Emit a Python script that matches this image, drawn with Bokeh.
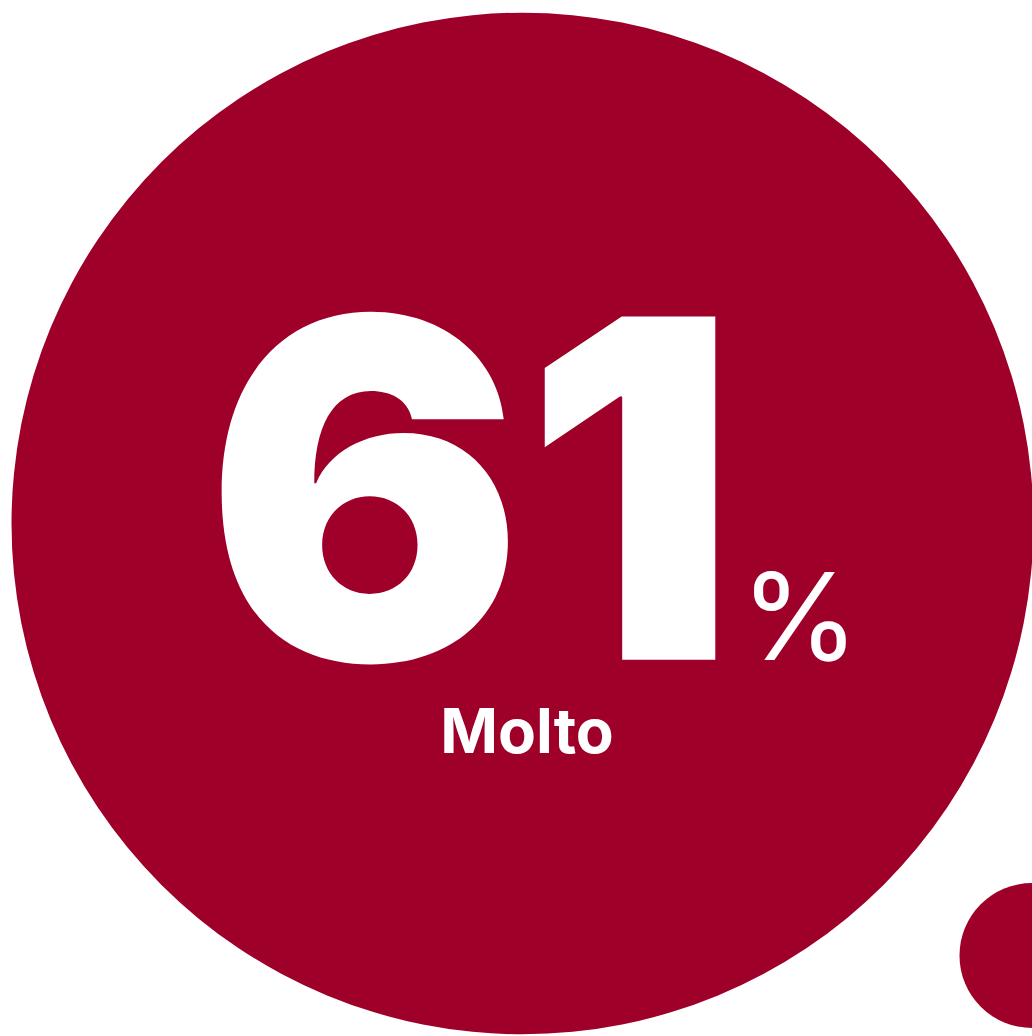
from bokeh.plotting import figure
from bokeh.models import Range1d
from bokeh.core.properties import value
from bokeh.embed import file_html
from bokeh.resources import INLINE

# data
categories = ["Molto"]
values = [61]
unit = "%"

RED = "#9f0029"
W, H = 1032, 1036

p = figure(width=W, height=H, output_backend="svg", toolbar_location=None,
           x_range=Range1d(0, W), y_range=Range1d(H, 0), min_border=0)
p.axis.visible = False
p.grid.visible = False
p.outline_line_color = None
p.background_fill_color = "white"
p.border_fill_color = "white"

# big bubble
p.circle(x=[522], y=[523], radius=511, fill_color=RED, line_color=None)
# small bubble (cut at right edge)
p.circle(x=[1031.5], y=[955], radius=72.5, fill_color=RED, line_color=None)

p.text(x=[205], y=[486], text=[str(values[0])], text_color="white",
       text_font=value("Inter Black, Inter"), text_font_style="bold", text_font_size="472px",
       text_align="left", text_baseline="alphabetic")
p.text(x=[740], y=[615], text=[unit], text_color="white",
       text_font=value("Inter"), text_font_style="normal", text_font_size="121px",
       text_align="left", text_baseline="alphabetic")
p.text(x=[526.5], y=[730], text=[categories[0]], text_color="white",
       text_font=value("Inter"), text_font_style="bold", text_font_size="62px",
       text_align="center", text_baseline="alphabetic")

open("out.html", "w").write(file_html(p, INLINE))
